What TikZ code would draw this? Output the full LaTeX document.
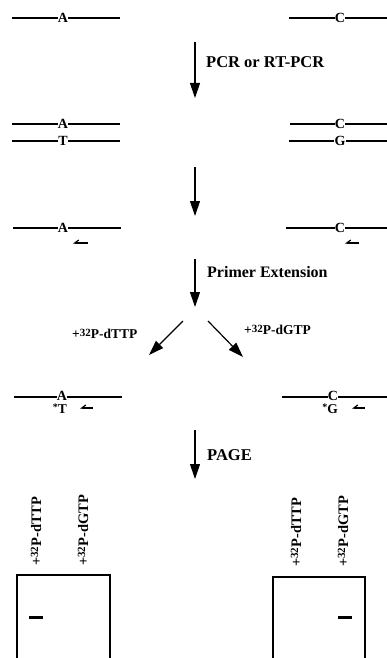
\documentclass[tikz,border=0pt]{standalone}
\usepackage{fontspec}
\setmainfont{Liberation Serif}
\usetikzlibrary{arrows.meta}
\newcommand{\isotope}[1]{+\raisebox{0.45ex}{\fontsize{11}{11}\selectfont 32}P-d#1TP}
\begin{document}
\begin{tikzpicture}[x=1pt,y=-1pt,
  strand/.style={line width=1.4pt},
  base/.style={fill=white,inner xsep=0.4pt,inner ysep=0pt,font=\bfseries\fontsize{14}{14}\selectfont},
  bare/.style={inner sep=0pt,font=\bfseries\fontsize{13.5}{13.5}\selectfont},
  stepline/.style={line width=1.2pt,-{Triangle[length=15pt,width=10pt]}},
  primer/.style={line width=1.2pt,-{Straight Barb[harpoon,swap,length=4pt,width=6pt]}},
  lbl/.style={anchor=west,inner sep=0pt,font=\bfseries\fontsize{16}{16}\selectfont},
  lanelbl/.style={rotate=90,anchor=west,inner sep=0pt,font=\bfseries\fontsize{14.5}{14.5}\selectfont},
  gel/.style={line width=1.2pt},
  band/.style={line width=3pt}]
\useasboundingbox (0,0) rectangle (387,658);

% row 1: single strands
\coordinate (l1a) at (12,18); \coordinate (l1b) at (120,18);
\draw[strand] (l1a) -- (l1b);
\node[base] (bA1) at (63,18) {A};
\coordinate (r1a) at (289,18); \coordinate (r1b) at (387,18);
\draw[strand] (r1a) -- (r1b);
\node[base] (bC1) at (340,18) {C};

% step 1
\coordinate (s1a) at (195,42); \coordinate (s1b) at (195,98);
\draw[stepline] (s1a) -- (s1b);
\node[lbl] (t1) at (206,62) {\fontsize{16.5}{16.5}\selectfont PCR or RT-PCR};

% row 2: double strands
\coordinate (l2a) at (12,124); \coordinate (l2b) at (120,124);
\draw[strand] (l2a) -- (l2b);
\node[base] (bA2) at (63,124) {A};
\coordinate (l3a) at (12,141); \coordinate (l3b) at (120,141);
\draw[strand] (l3a) -- (l3b);
\node[base] (bT2) at (63,141) {T};
\coordinate (r2a) at (290,124); \coordinate (r2b) at (387,124);
\draw[strand] (r2a) -- (r2b);
\node[base] (bC2) at (340,124) {C};
\coordinate (r3a) at (289,141); \coordinate (r3b) at (387,141);
\draw[strand] (r3a) -- (r3b);
\node[base] (bG2) at (340,141) {G};

% step 2
\coordinate (s2a) at (195,167); \coordinate (s2b) at (195,216);
\draw[stepline] (s2a) -- (s2b);

% row 3: primer annealed
\coordinate (l4a) at (13,228); \coordinate (l4b) at (121,228);
\draw[strand] (l4a) -- (l4b);
\node[base] (bA3) at (63,228) {A};
\coordinate (p1a) at (88,243); \coordinate (p1b) at (73,243);
\draw[primer] (p1a) -- (p1b);
\coordinate (r4a) at (286,228); \coordinate (r4b) at (387,228);
\draw[strand] (r4a) -- (r4b);
\node[base] (bC3) at (340,228) {C};
\coordinate (p2a) at (359,243); \coordinate (p2b) at (345,243);
\draw[primer] (p2a) -- (p2b);

% step 3
\coordinate (s3a) at (195,259); \coordinate (s3b) at (195,307);
\draw[stepline] (s3a) -- (s3b);
\node[lbl] (t3) at (207,272) {Primer Extension};

% branching
\coordinate (dla) at (183,321); \coordinate (dlb) at (149,355);
\draw[stepline] (dla) -- (dlb);
\coordinate (dra) at (208,321); \coordinate (drb) at (243,357);
\draw[stepline] (dra) -- (drb);
\node[bare,anchor=west] (tl) at (72,334) {\isotope{T}};
\node[bare,anchor=west] (tr) at (244,330) {\isotope{G}};

% row 4: extended primers
\coordinate (l5a) at (14,397); \coordinate (l5b) at (122,397);
\draw[strand] (l5a) -- (l5b);
\node[base] (bA4) at (62,396) {A};
\node[bare] (bT4) at (60,409) {\raisebox{0.5ex}{\fontsize{10}{10}\selectfont *}T};
\coordinate (p3a) at (93,408); \coordinate (p3b) at (80,408);
\draw[primer] (p3a) -- (p3b);
\coordinate (r5a) at (282,397); \coordinate (r5b) at (387,397);
\draw[strand] (r5a) -- (r5b);
\node[base] (bC4) at (333,396) {C};
\node[bare] (bG4) at (330,409) {\raisebox{0.5ex}{\fontsize{10}{10}\selectfont *}G};
\coordinate (p4a) at (365,408); \coordinate (p4b) at (352,408);
\draw[primer] (p4a) -- (p4b);

% step 4
\coordinate (s4a) at (195,430); \coordinate (s4b) at (195,479);
\draw[stepline] (s4a) -- (s4b);
\node[lbl] (t4) at (207,455) {\fontsize{16.5}{16.5}\selectfont PAGE};

% gels
\draw[gel] (17,658) -- (17,575) -- (110,575) -- (110,658);
\draw[gel] (273,658) -- (273,577) -- (365,577) -- (365,658);
\node[lanelbl] (g1) at (36,566) {\isotope{T}};
\node[lanelbl] (g2) at (83,566) {\isotope{G}};
\node[lanelbl] (g3) at (296,567) {\isotope{T}};
\node[lanelbl] (g4) at (343,567) {\isotope{G}};
\coordinate (b1a) at (29,617); \coordinate (b1b) at (43,617);
\draw[band] (b1a) -- (b1b);
\coordinate (b2a) at (338,617); \coordinate (b2b) at (352,617);
\draw[band] (b2a) -- (b2b);
\end{tikzpicture}
\end{document}
